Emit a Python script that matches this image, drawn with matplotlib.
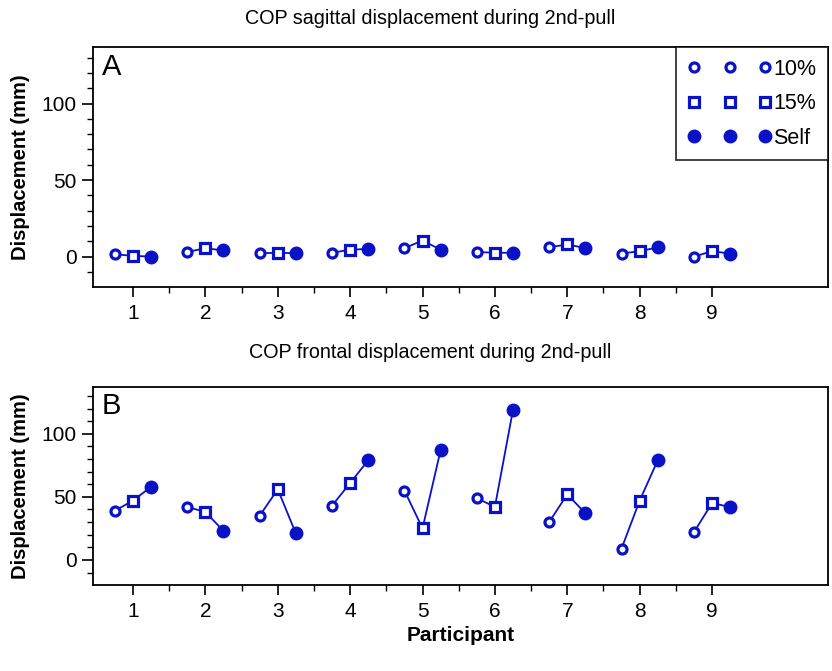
import numpy as np
import matplotlib.pyplot as plt
from matplotlib.lines import Line2D

plt.rcParams['font.family'] = ['Liberation Sans', 'DejaVu Sans']

# data
participants = [1, 2, 3, 4, 5, 6, 7, 8, 9]
conditions = ['10%', '15%', 'Self']

sag_10 = [1.5, 3.0, 2.5, 2.5, 5.5, 3.0, 6.0, 2.0, 0.0]
sag_15 = [0.5, 5.5, 2.5, 4.5, 10.5, 2.5, 8.0, 3.5, 3.5]
sag_self = [0.0, 4.0, 2.5, 5.0, 4.5, 2.5, 5.5, 6.0, 2.0]

fro_10 = [39, 42, 35, 43, 55, 49, 30, 9, 22]
fro_15 = [47, 38, 56, 61, 25, 42, 52, 47, 45]
fro_self = [58, 23, 21, 79, 87, 119, 37, 79, 42]

blue = '#0A12C8'
offsets = [-0.25, 0.0, 0.25]
mstyles = [
    dict(marker='o', ms=6.5, mfc='white', mec=blue, mew=2.3),
    dict(marker='s', ms=6.5, mfc='white', mec=blue, mew=2.3),
    dict(marker='o', ms=9, mfc=blue, mec=blue, mew=1),
]


def draw_panel(ax, vals, letter):
    for i, p in enumerate(participants):
        xs = [p + o for o in offsets]
        ys = [vals[0][i], vals[1][i], vals[2][i]]
        ax.plot(xs, ys, color=blue, lw=1.3, zorder=2)
        for x, y, st in zip(xs, ys, mstyles):
            ax.plot([x], [y], ls='none', zorder=3, **st)
    ax.set_xlim(0.45, 10.6)
    ax.set_ylim(-20, 137)
    ax.set_xticks(participants)
    ax.set_xticks(np.arange(1.5, 9, 1.0), minor=True)
    ax.set_yticks([0, 50, 100])
    ax.set_yticks(np.arange(-10, 135, 10), minor=True)
    ax.tick_params(axis='both', which='major', direction='out', length=7, width=1.2, labelsize=15, pad=5)
    ax.tick_params(axis='both', which='minor', direction='out', length=4, width=1.0)
    ax.tick_params(axis='y', which='major', length=8, pad=4)
    for s in ax.spines.values():
        s.set_linewidth(1.3)
    ax.set_ylabel('Displacement (mm)', fontsize=14.5, fontweight='bold', labelpad=8)
    ax.text(0.012, 0.975, letter, transform=ax.transAxes, fontsize=21, va='top', ha='left')


fig = plt.figure(figsize=(8.32, 6.71), dpi=100)
axA = fig.add_axes([0.112, 0.572, 0.883, 0.358])
axB = fig.add_axes([0.112, 0.128, 0.883, 0.295])

draw_panel(axA, [sag_10, sag_15, sag_self], 'A')
draw_panel(axB, [fro_10, fro_15, fro_self], 'B')

fig.text(430 / 832, 1 - 19 / 671, 'COP sagittal displacement during 2nd-pull',
         ha='center', va='center', fontsize=14.2)
fig.text(430 / 832, 1 - 352 / 671, 'COP frontal displacement during 2nd-pull',
         ha='center', va='center', fontsize=14.2)
axB.set_xlabel('Participant', fontsize=15, fontweight='bold', labelpad=4)

handles = [Line2D([], [], ls='none', **st) for st in mstyles]
leg = axA.legend(handles, conditions, loc='upper right', numpoints=3, handlelength=3.9,
                 fontsize=15.5, frameon=True, fancybox=False, borderaxespad=0,
                 handletextpad=0.05, labelspacing=0.62, borderpad=0.55, markerfirst=True)
leg.get_frame().set_edgecolor('black')
leg.get_frame().set_linewidth(1.3)

fig.savefig('out.png', dpi=100)
